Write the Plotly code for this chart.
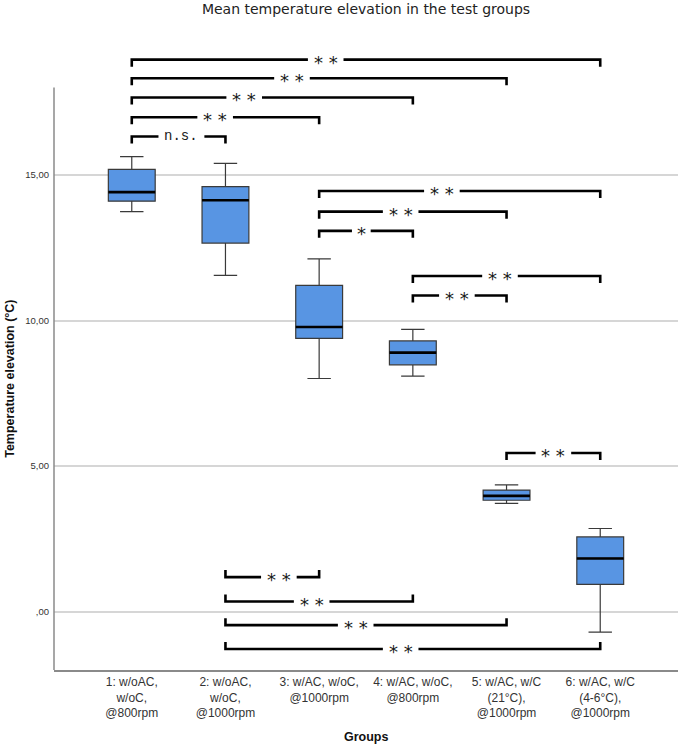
import plotly.graph_objects as go

# ---- data ----
groups = ["1: w/oAC,<br>w/oC,<br>@800rpm",
          "2: w/oAC,<br>w/oC,<br>@1000rpm",
          "3: w/AC, w/oC,<br>@1000rpm",
          "4: w/AC, w/oC,<br>@800rpm",
          "5: w/AC, w/C<br>(21°C),<br>@1000rpm",
          "6: w/AC, w/C<br>(4-6°C),<br>@1000rpm"]
positions = [0, 1, 2, 3, 4, 5]
q1 = [14.10, 12.66, 9.39, 8.48, 3.83, 0.94]
median = [14.41, 14.13, 9.78, 8.90, 3.98, 1.83]
q3 = [15.19, 14.60, 11.21, 9.30, 4.18, 2.57]
lower_whisker = [13.74, 11.55, 8.01, 8.09, 3.72, -0.70]
upper_whisker = [15.63, 15.40, 12.12, 9.70, 4.36, 2.86]

y_tickvals = [0, 5, 10, 15]
y_ticktext = [",00", "5,00", "10,00", "15,00"]

# significance brackets (group indices, 0-based)
bracket_from = [0, 0, 0, 0, 0, 2, 2, 2, 3, 3, 4, 1, 1, 1, 1]
bracket_to = [5, 4, 3, 2, 1, 5, 4, 3, 5, 4, 5, 2, 3, 4, 5]
bracket_y = [18.96, 18.32, 17.66, 16.98, 16.32, 14.45, 13.74, 13.08,
             11.53, 10.86, 5.45, 1.19, 0.35, -0.46, -1.28]
bracket_dir = [1, 1, 1, 1, 1, 1, 1, 1, 1, 1, 1, -1, -1, -1, -1]
bracket_label = ["* *", "* *", "* *", "* *", "n.s.", "* *", "* *", "*",
                 "* *", "* *", "* *", "* *", "* *", "* *", "* *"]
label_x = [2.07, 1.71, 1.20, 0.89, 0.53, 3.31, 2.87, 2.45,
           3.93, 3.47, 4.50, 1.57, 1.92, 2.39, 2.87]

# ---- style ----
BOX_W = 0.5
TICK = 0.24
FILL = "#5895E3"
EDGE = "#3a3a3a"
GAP = {"* *": 0.19, "*": 0.1, "n.s.": 0.245}

fig = go.Figure()

fig.add_trace(go.Box(
    x=positions, q1=q1, median=median, q3=q3,
    lowerfence=lower_whisker, upperfence=upper_whisker,
    width=BOX_W, whiskerwidth=0.5, boxpoints=False,
    fillcolor=FILL, line=dict(color=EDGE, width=1.2),
    hoverinfo="skip", showlegend=False))

# thick black medians
mx, my = [], []
for p, m in zip(positions, median):
    mx += [p - BOX_W / 2, p + BOX_W / 2, None]
    my += [m, m, None]
fig.add_trace(go.Scatter(x=mx, y=my, mode="lines",
                         line=dict(color="black", width=2.6),
                         hoverinfo="skip", showlegend=False))

# brackets, with a gap where the label sits
bx, by = [], []
for a, b, yv, d, lx, lab in zip(bracket_from, bracket_to, bracket_y,
                                bracket_dir, label_x, bracket_label):
    g = GAP[lab]
    bx += [positions[a], positions[a], lx - g, None,
           lx + g, positions[b], positions[b], None]
    by += [yv - d * TICK, yv, yv, None, yv, yv, yv - d * TICK, None]
fig.add_trace(go.Scatter(x=bx, y=by, mode="lines",
                         line=dict(color="black", width=2.6),
                         hoverinfo="skip", showlegend=False))

for lx, yv, lab in zip(label_x, bracket_y, bracket_label):
    star = "*" in lab
    fig.add_annotation(x=lx, y=yv, xref="x", yref="y", text=lab,
                       showarrow=False, xanchor="center", yanchor="middle",
                       borderpad=0,
                       yshift=-2.5 if star else 1,
                       font=dict(family="DejaVu Sans" if star else "Liberation Mono",
                                 size=18 if star else 14,
                                 color="#1a1a1a"))

# left axis line (from -2 to 18)
fig.add_shape(type="line", xref="paper", yref="y", x0=0, x1=0, y0=-2, y1=18,
              line=dict(color="#8a8a8a", width=1.5))

# axis titles
fig.add_annotation(x=0, y=8, xref="paper", yref="y", xshift=-44,
                   xanchor="center", yanchor="middle",
                   text="<b>Temperature elevation (°C)</b>", textangle=-90,
                   showarrow=False,
                   font=dict(family="Liberation Sans", size=12.5, color="#111"))
fig.add_annotation(x=0.5, y=0, xref="paper", yref="paper", yshift=-67,
                   xanchor="center", yanchor="middle",
                   text="<b>Groups</b>", showarrow=False,
                   font=dict(family="Liberation Sans", size=12.5, color="#111"))

fig.update_layout(
    width=685, height=746,
    margin=dict(l=54, r=7, t=41, b=76),
    paper_bgcolor="white", plot_bgcolor="white",
    title=dict(text="Mean temperature elevation in the test groups",
               x=0.5, xref="paper", y=1 - 9 / 746, yref="container",
               yanchor="middle", pad=dict(t=0, b=0),
               font=dict(family="DejaVu Sans", size=14, color="#222")),
    xaxis=dict(range=[-0.83, 5.83], tickvals=positions, ticktext=groups,
               showgrid=False, zeroline=False, showline=True,
               linecolor="#8a8a8a", linewidth=1.5, ticks="",
               tickfont=dict(family="Liberation Sans", size=12, color="#333")),
    yaxis=dict(range=[-2, 19.6], tickvals=y_tickvals, ticktext=y_ticktext,
               showgrid=True, gridcolor="#d6d6d6", gridwidth=1.5,
               zeroline=False, showline=False, ticks="",
               ticklabelstandoff=4,
               tickfont=dict(family="Liberation Sans", size=9.5, color="#333")),
)

fig.write_html("out.html", config={"displayModeBar": False},
               post_script="document.body.style.margin='0';document.body.style.padding='0';")
